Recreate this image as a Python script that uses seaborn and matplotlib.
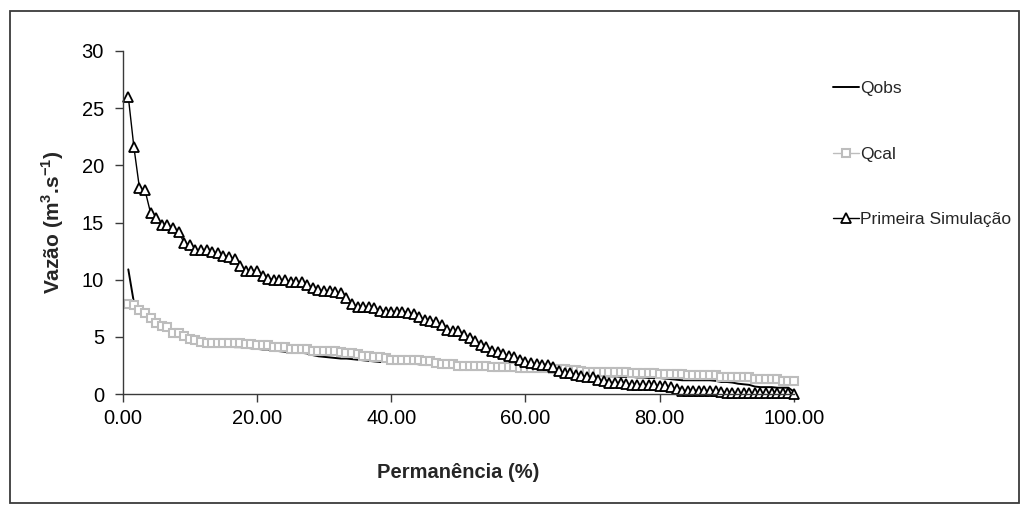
import numpy as np
import pandas as pd
import matplotlib
matplotlib.use("Agg")
import matplotlib.pyplot as plt
from matplotlib.patches import Rectangle
from matplotlib.ticker import FixedLocator, FixedFormatter
import seaborn as sns

# Flow-duration curves: discharge (m3/s) sorted in decreasing order, 120 ranks
q_obs = [
    10.9, 8.0, 7.3, 7.0, 6.6, 6.2, 5.9, 5.7, 5.5, 5.35,
    5.2, 5.0, 4.85, 4.7, 4.55, 4.4, 4.3, 4.2, 4.15, 4.1,
    4.1, 4.05, 4.0, 3.95, 3.9, 3.9, 3.8, 3.75, 3.7, 3.7,
    3.65, 3.6, 3.55, 3.4, 3.3, 3.25, 3.2, 3.15, 3.1, 3.1,
    3.05, 3.0, 2.95, 2.9, 2.85, 2.8, 2.8, 2.75, 2.75, 2.7,
    2.7, 2.65, 2.6, 2.6, 2.55, 2.55, 2.5, 2.45, 2.4, 2.35,
    2.35, 2.35, 2.3, 2.3, 2.3, 2.3, 2.25, 2.25, 2.25, 2.25,
    2.2, 2.2, 2.2, 2.2, 2.2, 2.2, 2.1, 2.0, 1.95, 1.9,
    1.85, 1.8, 1.7, 1.65, 1.6, 1.55, 1.55, 1.55, 1.5, 1.5,
    1.5, 1.45, 1.45, 1.4, 1.4, 1.4, 1.35, 1.3, 1.25, 1.2,
    1.2, 1.2, 1.2, 1.2, 1.2, 1.15, 1.05, 1.05, 1.0, 0.9,
    0.85, 0.8, 0.65, 0.6, 0.6, 0.6, 0.55, 0.55, 0.55, 0.2,
]

q_cal = [
    7.9, 7.8, 7.35, 7.1, 6.65, 6.25, 5.95, 5.85, 5.35, 5.3,
    5.1, 4.85, 4.7, 4.55, 4.5, 4.5, 4.5, 4.5, 4.5, 4.45,
    4.45, 4.35, 4.35, 4.3, 4.3, 4.3, 4.15, 4.15, 4.1, 3.95,
    3.95, 3.95, 3.9, 3.8, 3.8, 3.8, 3.8, 3.75, 3.7, 3.55,
    3.55, 3.5, 3.3, 3.3, 3.2, 3.2, 3.15, 3.0, 3.0, 3.0,
    3.0, 3.0, 3.0, 2.85, 2.85, 2.7, 2.65, 2.65, 2.6, 2.45,
    2.45, 2.45, 2.45, 2.45, 2.45, 2.4, 2.4, 2.4, 2.4, 2.4,
    2.25, 2.25, 2.25, 2.25, 2.25, 2.25, 2.2, 2.2, 2.15, 2.1,
    2.1, 2.05, 1.95, 1.95, 1.95, 1.9, 1.9, 1.9, 1.9, 1.9,
    1.85, 1.85, 1.85, 1.85, 1.85, 1.75, 1.75, 1.75, 1.75, 1.75,
    1.7, 1.7, 1.7, 1.7, 1.7, 1.7, 1.5, 1.5, 1.5, 1.5,
    1.5, 1.5, 1.3, 1.3, 1.3, 1.3, 1.3, 1.1, 1.1, 1.1,
]

q_sim1 = [
    26.0, 21.6, 18.0, 17.8, 15.8, 15.4, 14.8, 14.8, 14.5, 14.2,
    13.2, 13.0, 12.6, 12.6, 12.6, 12.4, 12.3, 12.1, 12.0, 11.8,
    11.2, 10.8, 10.8, 10.8, 10.3, 10.1, 10.0, 10.0, 10.0, 9.8,
    9.8, 9.8, 9.5, 9.3, 9.1, 9.0, 9.0, 8.9, 8.8, 8.4,
    7.9, 7.6, 7.6, 7.6, 7.5, 7.3, 7.2, 7.2, 7.2, 7.2,
    7.1, 7.0, 6.7, 6.5, 6.4, 6.3, 6.0, 5.6, 5.5, 5.5,
    5.2, 4.9, 4.6, 4.3, 4.1, 3.8, 3.7, 3.5, 3.3, 3.2,
    3.0, 2.8, 2.7, 2.6, 2.5, 2.5, 2.4, 2.0, 1.8, 1.8,
    1.7, 1.6, 1.5, 1.5, 1.2, 1.1, 1.0, 1.0, 1.0, 0.9,
    0.8, 0.8, 0.8, 0.8, 0.8, 0.7, 0.7, 0.6, 0.4, 0.3,
    0.3, 0.3, 0.3, 0.3, 0.25, 0.25, 0.2, 0.1, 0.1, 0.1,
    0.1, 0.1, 0.1, 0.1, 0.1, 0.05, 0.05, 0.05, 0.05, 0.0,
]

series_names = ["Qobs", "Qcal", "Primeira Simulação"]
x_ticks = [0, 20, 40, 60, 80, 100]
x_tick_labels = ["0.00", "20.00", "40.00", "60.00", "80.00", "100.00"]
y_ticks = [0, 5, 10, 15, 20, 25, 30]
y_tick_labels = ["0", "5", "10", "15", "20", "25", "30"]

# Exceedance percentage of each rank
n = len(q_obs)
permanencia = np.arange(1, n + 1) / n * 100.0

df = pd.concat([
    pd.DataFrame({"perm": permanencia, "vazao": vals, "serie": name})
    for name, vals in zip(series_names, [q_obs, q_cal, q_sim1])
], ignore_index=True)

sns.set_theme(style="white")
plt.rcParams["font.family"] = ["Liberation Sans", "DejaVu Sans"]
plt.rcParams["mathtext.fontset"] = "custom"
plt.rcParams["mathtext.rm"] = "Liberation Sans"
plt.rcParams["mathtext.bf"] = "Liberation Sans:bold"

W, H = 1027, 512
fig = plt.figure(figsize=(W / 100, H / 100), dpi=100)
fig.patch.set_facecolor("white")
ax = fig.add_axes([122.7 / W, 1 - 394 / H, (794 - 122.7) / W, (394 - 51) / H])

styles = {
    "Qobs": dict(color="black", lw=1.4),
    "Qcal": dict(color="#BDBDBD", lw=1.0, marker="s", markersize=5.5,
                 markerfacecolor="white", markeredgecolor="#BDBDBD",
                 markeredgewidth=1.5),
    "Primeira Simulação": dict(color="black", lw=1.0, marker="^", markersize=7.5,
                               markerfacecolor="white", markeredgecolor="black",
                               markeredgewidth=1.3),
}

for name in series_names:
    sub = df[df["serie"] == name]
    sns.lineplot(data=sub, x="perm", y="vazao", ax=ax, label=name,
                 estimator=None, sort=False, clip_on=False, **styles[name])

ax.set_xlim(0, 100)
ax.set_ylim(0, 30)
ax.xaxis.set_major_locator(FixedLocator(x_ticks))
ax.xaxis.set_major_formatter(FixedFormatter(x_tick_labels))
ax.yaxis.set_major_locator(FixedLocator(y_ticks))
ax.yaxis.set_major_formatter(FixedFormatter(y_tick_labels))

for side in ["top", "right"]:
    ax.spines[side].set_visible(False)
for side in ["left", "bottom"]:
    ax.spines[side].set_color("#3a3a3a")
    ax.spines[side].set_linewidth(1.0)

ax.tick_params(axis="both", which="major", direction="out", length=5.5, width=1.0,
               color="#3a3a3a", labelsize=14.5, labelcolor="black",
               left=True, bottom=True)
ax.tick_params(axis="y", pad=8)
ax.tick_params(axis="x", pad=5)

ax.set_xlabel("Permanência (%)", fontsize=14.5, fontweight="bold")
ax.set_ylabel(r"Vazão (m$^{\mathbf{3}}$.s$^{\mathbf{-1}}$)", fontsize=15, fontweight="bold")
ax.xaxis.set_label_coords(0.5, -0.2)
ax.yaxis.set_label_coords(-0.085, 0.5)

leg = ax.legend(loc="upper left", bbox_to_anchor=(826 / W, 1 - 74 / H),
                bbox_transform=fig.transFigure, frameon=False, fontsize=12.5,
                labelspacing=2.9, handlelength=1.5, handletextpad=0.05,
                borderaxespad=0)

# Outer chart border
fig.patches.append(Rectangle((9.5 / W, 1 - 503 / H), (1019 - 9.5) / W, (503 - 11) / H,
                             transform=fig.transFigure, fill=False,
                             edgecolor="#3a3a3a", linewidth=1.3))

fig.savefig("out.png", dpi=100, facecolor="white")
